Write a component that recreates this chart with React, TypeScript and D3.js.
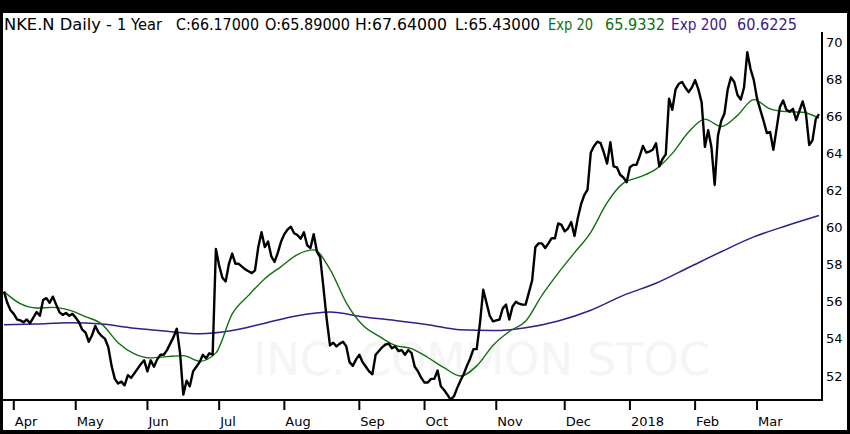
import * as d3 from "d3";

// daily closes, one per trading day (index 0 = first day shown)
const closes = [
  56.6, 56.0, 55.6, 55.4, 55.1, 55.05, 54.95, 55.1, 54.9, 55.2,
  55.5, 55.3, 56.15, 56.25, 56.0, 56.33, 55.9, 55.5, 55.35, 55.45,
  55.3, 55.4, 55.2, 54.95, 54.55, 54.4, 53.9, 54.25, 54.75, 54.4,
  54.2, 54.05, 53.6, 52.6, 51.9, 51.65, 51.75, 51.55, 52.1, 51.95,
  52.2, 52.45, 52.7, 52.9, 52.3, 52.9, 52.55, 52.95, 53.2, 53.2,
  53.45, 53.8, 54.15, 54.6, 53.3, 51.05, 51.8, 51.5, 52.3, 52.55,
  52.8, 53.2, 53.0, 53.28, 53.2, 58.9, 58.0, 57.35, 57.15, 58.1,
  58.65, 58.1, 58.1, 57.95, 57.8, 57.7, 57.6, 57.75, 59.0, 59.8,
  59.0, 59.3, 58.5, 58.2, 58.7, 59.3, 59.7, 59.95, 60.1, 59.75,
  59.65, 59.45, 59.8, 59.1, 58.95, 59.7, 58.75, 58.45, 56.8, 55.1,
  53.7, 53.85, 53.65, 53.8, 53.9, 53.65, 52.8, 52.6, 52.95, 53.2,
  52.8, 52.55, 52.3, 52.15, 53.2, 53.4, 53.6, 53.75, 53.8, 53.55,
  53.65, 53.4, 53.45, 53.2, 53.45, 53.3, 52.55, 52.3, 51.95, 51.7,
  51.7, 51.9, 51.9, 52.35, 51.5, 51.3, 51.05, 50.78, 50.95, 51.4,
  51.8, 52.15, 52.6, 53.0, 53.5, 53.5, 54.9, 56.7, 56.0, 55.3,
  55.0, 55.05, 55.1, 55.7, 55.9, 55.1, 55.8, 56.05, 55.95, 55.9,
  55.9, 56.55, 57.2, 59.0, 59.2, 59.2, 58.95, 59.2, 59.48, 59.48,
  60.28, 60.2, 59.85, 60.0, 60.35, 59.6, 60.55, 61.3, 61.8, 62.1,
  64.1, 64.45, 64.68, 64.6, 64.1, 63.5, 64.65, 63.35, 63.3, 62.9,
  62.75, 62.5, 63.3, 63.43, 63.43, 63.9, 64.45, 64.1, 64.15, 64.25,
  64.6, 63.35, 63.75, 64.0, 67.0, 66.4, 67.5, 67.8, 67.9, 67.6,
  67.35, 67.6, 68.0, 67.5, 66.8, 64.4, 65.3, 64.4, 62.35, 65.0,
  65.8, 66.2, 67.5, 68.15, 67.9, 67.2, 66.95, 67.6, 69.5, 68.6,
  68.0, 67.0, 66.4, 65.8, 65.15, 65.2, 64.25, 65.4, 66.55, 66.9,
  66.4, 66.3, 66.45, 65.85, 66.35, 66.85, 66.2, 64.5, 64.75, 65.9,
  66.17,
];

// EMA 20, read every 5 trading days
const ema20Days = d3.range(0, 251, 5);
const ema20 = [
  56.6, 55.95, 55.72, 55.75, 55.6, 55.25, 54.85, 53.85, 53.25, 53.03,
  53.1, 53.15, 52.85, 53.3, 55.4, 56.4, 57.3, 57.95, 58.6, 58.85,
  57.8, 56.0, 54.8, 54.2, 53.7, 53.53, 53.05, 52.5, 52.05, 52.6,
  53.7, 54.45, 55.0, 56.4, 57.6, 58.7, 59.8, 61.4, 62.45, 62.78,
  63.2, 64.05, 65.2, 65.9, 65.5, 66.1, 66.95, 66.45, 66.3, 66.27,
  65.95,
];

// EMA 200, read every 10 trading days
const ema200Days = d3.range(0, 251, 10);
const ema200 = [
  54.81, 54.86, 54.92, 54.85, 54.63, 54.47, 54.33, 54.5, 54.9, 55.3,
  55.5, 55.25, 55.05, 54.82, 54.54, 54.5, 54.65, 55.02, 55.6, 56.4,
  57.05, 57.9, 58.75, 59.55, 60.15, 60.7,
];

const monthLabels = ["Apr", "May", "Jun", "Jul", "Aug", "Sep", "Oct", "Nov", "Dec", "2018", "Feb", "Mar"];
const monthStartDays = [3, 22, 44, 66, 86, 109, 129, 151, 172, 192, 212, 231];
const priceTicks = [52, 54, 56, 58, 60, 62, 64, 66, 68, 70];

const GREEN = "#107010";
const PURPLE = "#3a1a8c";

export default function App() {
  const width = 850;
  const height = 434;
  const plotRight = 822;
  const plotBottom = 400;

  const x = d3.scaleLinear().domain([0, closes.length - 1]).range([4, 819]);
  const y = d3.scaleLinear().domain([52, 70]).range([377, 43]);

  const priceLine = d3
    .line<number>()
    .x((_, i) => x(i))
    .y((d) => y(d));

  const smoothLine = d3
    .line<[number, number]>()
    .x((d) => x(d[0]))
    .y((d) => y(d[1]))
    .curve(d3.curveMonotoneX);

  const ema20Pts = ema20Days.map((d, i) => [d, ema20[i]] as [number, number]);
  const ema200Pts = ema200Days.map((d, i) => [d, ema200[i]] as [number, number]);

  const font = "'DejaVu Sans', Verdana, sans-serif";

  // header pieces: [text, left, width, colour]
  const header: [string, number, number, string][] = [
    ["NKE.N Daily -", 4, 108, "#000"],
    ["1 Year", 117, 45, "#000"],
    ["C:66.17000", 176, 83, "#000"],
    ["O:65.89000", 265, 85, "#000"],
    ["H:67.64000", 355, 92, "#000"],
    ["L:65.43000", 455, 85, "#000"],
    ["Exp 20", 548, 45, GREEN],
    ["65.9332", 605, 60, GREEN],
    ["Exp 200", 671, 56, PURPLE],
    ["60.6225", 737, 60, PURPLE],
  ];

  return (
    <>
      <style>{`body{margin:0}`}</style>
      <svg width={width} height={height} style={{ display: "block" }} fontFamily={font}>
        <rect x={0} y={0} width={width} height={height} fill="#000" />
        <rect x={3} y={13} width={844} height={417} fill="#fff" />

        <text x={253} y={375} fontSize={44} fill="#f5f5f5" textLength={457} lengthAdjust="spacingAndGlyphs">
          INC. COMMON STOC
        </text>

        <g fontSize={15}>
          {header.map(([t, hx, w, c]) => (
            <text key={t} x={hx} y={30} fill={c} textLength={w} lengthAdjust="spacingAndGlyphs">
              {t}
            </text>
          ))}
        </g>

        <path d={smoothLine(ema200Pts) ?? ""} fill="none" stroke={PURPLE} strokeWidth={1.5} />
        <path d={smoothLine(ema20Pts) ?? ""} fill="none" stroke={GREEN} strokeWidth={1.4} />
        <path d={priceLine(closes) ?? ""} fill="none" stroke="#000" strokeWidth={2.4} strokeLinejoin="round" />

        <line x1={3} x2={plotRight + 1} y1={plotBottom} y2={plotBottom} stroke="#000" strokeWidth={2} />
        <line x1={plotRight} x2={plotRight} y1={32} y2={plotBottom} stroke="#000" strokeWidth={2} />

        <g fontSize={13}>
          {priceTicks.map((t) => (
            <text key={t} x={826} y={y(t)} dominantBaseline="middle" fill="#000">
              {t}
            </text>
          ))}
          {monthStartDays.map((d, i) => (
            <g key={monthLabels[i]}>
              <line x1={x(d)} x2={x(d)} y1={plotBottom} y2={410} stroke="#000" strokeWidth={2} />
              <text x={x(d) + 1} y={426} fill="#000">
                {monthLabels[i]}
              </text>
            </g>
          ))}
        </g>
      </svg>
    </>
  );
}
